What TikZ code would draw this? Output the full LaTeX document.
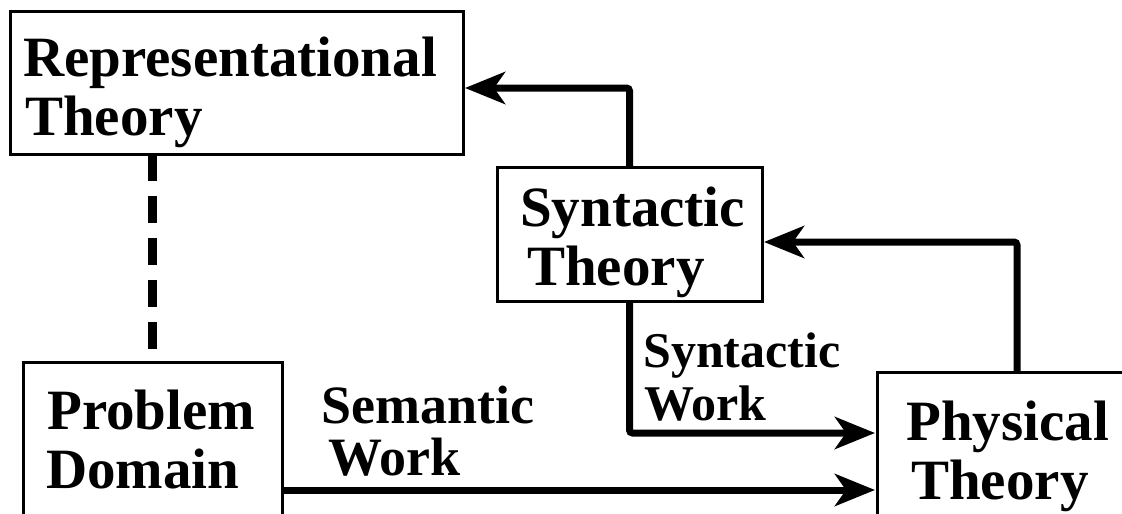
\documentclass[tikz,border=0pt]{standalone}
\usepackage{fontspec}
\setmainfont{Liberation Serif}
\usetikzlibrary{arrows.meta}

\begin{document}
\begin{tikzpicture}[x=1pt, y=-1pt,
    box/.style={draw, line width=3pt, inner sep=0pt, outer sep=0pt, anchor=north west},
    lab/.style={inner sep=0pt, anchor=base west, font=\bfseries\fontsize{57}{60}\selectfont},
    semlab/.style={lab, font=\bfseries\fontsize{54}{57}\selectfont},
    synlab/.style={lab, font=\bfseries\fontsize{50}{53}\selectfont},
    flow/.style={line width=7pt, rounded corners=3pt, shorten >=2pt,
      -{Stealth[length=40pt, width=32pt, inset=11pt]}},
    dashln/.style={line width=9pt, dash pattern=on 27pt off 15pt}]
  \useasboundingbox (0,0) rectangle (1122,514);
  \clip (0,0) rectangle (1122,514);
  % ---- boxes (bottom and right ones run past the edge) -----------------
  \node[box, minimum width=453pt, minimum height=143pt] (rep)  at (10,11)  {};
  \node[box, minimum width=265pt, minimum height=134pt] (syn)  at (497,167) {};
  \node[box, minimum width=259pt, minimum height=256pt] (prob) at (23,362) {};
  \node[box, minimum width=280pt, minimum height=228pt] (phys) at (877,372) {};
  % ---- box texts ---------------------------------------------------------
  \node[lab] (repA)  at (23,76)   {Representational};
  \node[lab] (repB)  at (25,135)  {Theory};
  \node[lab] (synA)  at (520,226) {Syntactic};
  \node[lab] (synB)  at (527,285) {Theory};
  \node[lab] (probA) at (47,429)  {Problem};
  \node[lab] (probB) at (46,488)  {Domain};
  \node[lab] (physA) at (906,440) {Physical};
  \node[lab] (physB) at (911,499) {Theory};
  % ---- work labels -------------------------------------------------------
  \node[semlab] (semA) at (321,423) {Semantic};
  \node[semlab] (semB) at (328,475) {Work};
  \node[synlab] (swkA) at (643,367) {Syntactic};
  \node[synlab] (swkB) at (644,420) {Work};
  % ---- connectors --------------------------------------------------------
  \draw[dashln] (prob.north |- rep.south) -- (prob.north);
  \draw[flow] (syn.north) |- ([yshift=-5.5pt]rep.east);
  \draw[flow] (phys.north) |- ([yshift=-8pt]syn.east);
  \draw[flow] (syn.south) |- ([yshift=53pt]phys.west);
  \draw[flow] (prob.east) -- (prob.east -| phys.west);
\end{tikzpicture}
\end{document}
